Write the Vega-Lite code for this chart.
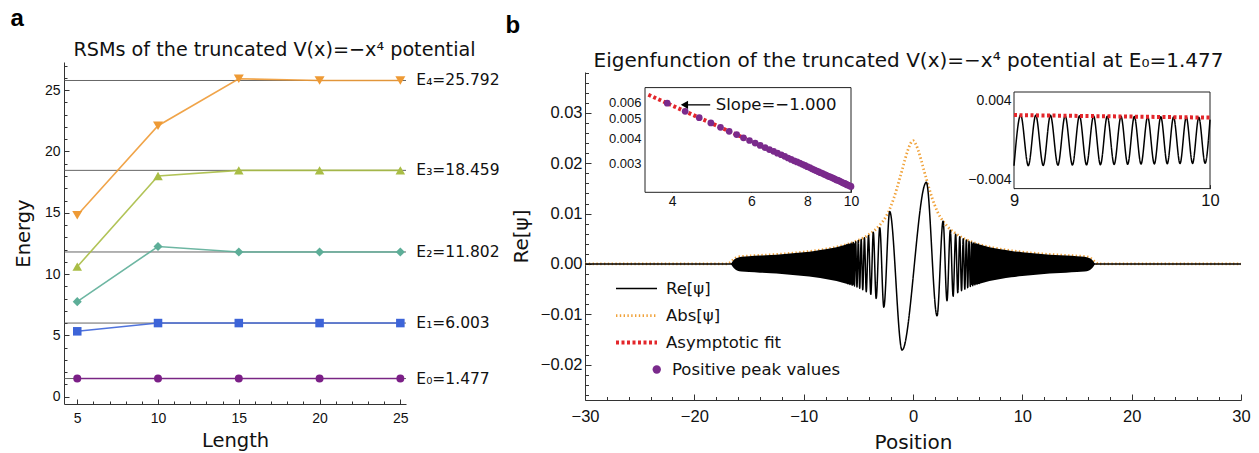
{
  "$schema": "https://vega.github.io/schema/vega-lite/v6.json",
  "background": "white",
  "padding": {"left": 10, "top": 6, "right": 5, "bottom": 3},
  "bounds": "flush",
  "spacing": 179,
  "config": {
    "view": {"stroke": null},
    "font": "Liberation Sans",
    "axis": {"grid": false, "labelFont": "Liberation Sans", "labelColor": "#111", "titleFont": "DejaVu Sans", "titleFontWeight": "normal", "titleColor": "#111", "domainColor": "#333", "tickColor": "#333", "labelFlush": false, "labelOverlap": false},
    "title": {"fontWeight": "normal", "color": "#111", "font": "DejaVu Sans"}
  },
  "resolve": {"scale": {"color": "independent", "shape": "independent", "size": "independent", "strokeDash": "independent", "strokeWidth": "independent"}, "legend": {"color": "independent", "shape": "independent", "size": "independent", "strokeDash": "independent", "strokeWidth": "independent"}},
  "hconcat": [
    {
      "width": 342,
      "height": 342,
      "resolve": {"axis": {"x": "independent", "y": "independent"}},
      "layer": [
        {
          "data": {"values": [
            {"level": "E0", "L": 25, "E": 1.477, "label": "E₀=1.477"},
            {"level": "E1", "L": 25, "E": 6.003, "label": "E₁=6.003"},
            {"level": "E2", "L": 25, "E": 11.802, "label": "E₂=11.802"},
            {"level": "E3", "L": 25, "E": 18.459, "label": "E₃=18.459"},
            {"level": "E4", "L": 25, "E": 25.792, "label": "E₄=25.792"}
          ]},
          "mark": {"type": "rule", "color": "#555", "strokeWidth": 0.9},
          "encoding": {
            "y": {"field": "E", "type": "quantitative", "scale": {"domain": [-0.6, 27.3], "nice": false, "zero": false},
              "axis": {"orient": "left", "values": [1,2,3,4,6,7,8,9,11,12,13,14,16,17,18,19,21,22,23,24,26,27], "labels": false, "domain": false, "tickSize": -3,
                "title": "a", "titleX": -54, "titleY": -36.7, "titleAngle": 0, "titleAlign": "left", "titleBaseline": "alphabetic", "titleFont": "Liberation Sans", "titleFontSize": 24, "titleFontWeight": "bold", "titleColor": "#000"}}
          }
        },
        {
          "data": {"name": "rsm", "values": [
            {"level": "E0", "L": 5, "E": 1.477}, {"level": "E0", "L": 10, "E": 1.477}, {"level": "E0", "L": 15, "E": 1.477}, {"level": "E0", "L": 20, "E": 1.477}, {"level": "E0", "L": 25, "E": 1.477},
            {"level": "E1", "L": 5, "E": 5.33}, {"level": "E1", "L": 10, "E": 6.003}, {"level": "E1", "L": 15, "E": 6.003}, {"level": "E1", "L": 20, "E": 6.003}, {"level": "E1", "L": 25, "E": 6.003},
            {"level": "E2", "L": 5, "E": 7.75}, {"level": "E2", "L": 10, "E": 12.25}, {"level": "E2", "L": 15, "E": 11.802}, {"level": "E2", "L": 20, "E": 11.802}, {"level": "E2", "L": 25, "E": 11.802},
            {"level": "E3", "L": 5, "E": 10.6}, {"level": "E3", "L": 10, "E": 18.0}, {"level": "E3", "L": 15, "E": 18.459}, {"level": "E3", "L": 20, "E": 18.459}, {"level": "E3", "L": 25, "E": 18.459},
            {"level": "E4", "L": 5, "E": 14.8}, {"level": "E4", "L": 10, "E": 22.1}, {"level": "E4", "L": 15, "E": 25.93}, {"level": "E4", "L": 20, "E": 25.792}, {"level": "E4", "L": 25, "E": 25.792}
          ]},
          "mark": {"type": "line", "strokeWidth": 1.6, "opacity": 0.9},
          "encoding": {
            "x": {"field": "L", "type": "quantitative", "scale": {"domain": [4.18, 25.35], "nice": false, "zero": false},
              "axis": {"orient": "bottom", "values": [5,10,15,20,25], "format": "d", "tickSize": -5, "labelPadding": 12, "labelFontSize": 14, "title": "Length", "titleFontSize": 19.5, "titlePadding": 6}},
            "y": {"field": "E", "type": "quantitative",
              "axis": {"orient": "left", "values": [0,5,10,15,20,25], "format": "d", "tickSize": -5, "labelPadding": 9, "labelFontSize": 14, "title": "Energy", "titleFontSize": 19.5, "titlePadding": 11}},
            "color": {"field": "level", "type": "nominal", "scale": {"domain": ["E0","E1","E2","E3","E4"], "range": ["#7B1F87","#3D64D8","#5DAE98","#A9BD45","#EE9A35"]}, "legend": null}
          }
        },
        {
          "data": {"name": "rsm"},
          "mark": {"type": "point", "filled": true, "opacity": 1},
          "encoding": {
            "x": {"field": "L", "type": "quantitative",
              "axis": {"orient": "bottom", "values": [6,7,8,9,11,12,13,14,16,17,18,19,21,22,23,24], "labels": false, "domain": false, "tickSize": -3,
                "title": "RSMs of the truncated V(x)=−x⁴ potential", "titleX": 210, "titleY": -348.7, "titleAngle": 0, "titleAlign": "center", "titleBaseline": "alphabetic", "titleFont": "DejaVu Sans", "titleFontSize": 19.2, "titleFontWeight": "normal"}},
            "y": {"field": "E", "type": "quantitative", "axis": null},
            "color": {"field": "level", "type": "nominal", "legend": null},
            "shape": {"field": "level", "type": "nominal", "scale": {"domain": ["E0","E1","E2","E3","E4"], "range": ["circle","square","diamond","triangle-up","triangle-down"]}, "legend": null},
            "size": {"field": "level", "type": "ordinal", "scale": {"domain": ["E0","E1","E2","E3","E4"], "range": [64, 100, 90, 110, 110]}, "legend": null}
          }
        },
        {
          "data": {"values": [
            {"level": "E0", "L": 25, "E": 1.477, "label": "E₀=1.477"},
            {"level": "E1", "L": 25, "E": 6.003, "label": "E₁=6.003"},
            {"level": "E2", "L": 25, "E": 11.802, "label": "E₂=11.802"},
            {"level": "E3", "L": 25, "E": 18.459, "label": "E₃=18.459"},
            {"level": "E4", "L": 25, "E": 25.792, "label": "E₄=25.792"}
          ]},
          "mark": {"type": "text", "align": "left", "baseline": "middle", "dx": 16, "font": "DejaVu Sans", "fontSize": 15.5, "color": "#111"},
          "encoding": {
            "x": {"field": "L", "type": "quantitative", "axis": null},
            "y": {"field": "E", "type": "quantitative", "axis": null},
            "text": {"field": "label"}
          }
        }
      ]
    },
    {
      "width": 656,
      "height": 338,
      "resolve": {"scale": {"x": "independent", "y": "independent"}, "axis": {"x": "independent", "y": "independent"}},
      "layer": [
        {
          "resolve": {"axis": {"x": "independent", "y": "independent"}},
          "layer": [
            {
              "data": {"values": [
                {"x": -30, "y": 0}, {"x": -17.0, "y": 0}, {"x": -16.7, "y": 0.0003}, {"x": -16.4, "y": 0.0009}, {"x": -16.1, "y": 0.0013}, {"x": -15.7, "y": 0.00148},
                {"x": -15, "y": 0.00158}, {"x": -14, "y": 0.0017}, {"x": -13, "y": 0.00182}, {"x": -12, "y": 0.00196}, {"x": -11, "y": 0.00214}, {"x": -10, "y": 0.00236},
                {"x": -9, "y": 0.00262}, {"x": -8, "y": 0.00294}, {"x": -7, "y": 0.00335}, {"x": -6, "y": 0.0039}, {"x": -5, "y": 0.0047}, {"x": -4.5, "y": 0.0052},
                {"x": -4, "y": 0.0059}, {"x": -3.5, "y": 0.0067}, {"x": -3, "y": 0.0078}, {"x": -2.5, "y": 0.0093}, {"x": -2.25, "y": 0.0103}, {"x": -2, "y": 0.0116},
                {"x": -1.75, "y": 0.0131}, {"x": -1.5, "y": 0.0148}, {"x": -1.25, "y": 0.0167}, {"x": -1, "y": 0.0186}, {"x": -0.75, "y": 0.0206}, {"x": -0.5, "y": 0.0224},
                {"x": -0.25, "y": 0.0238}, {"x": 0, "y": 0.0245}, {"x": 0.25, "y": 0.0238}, {"x": 0.5, "y": 0.0224}, {"x": 0.75, "y": 0.0206}, {"x": 1, "y": 0.0186},
                {"x": 1.25, "y": 0.0167}, {"x": 1.5, "y": 0.0148}, {"x": 1.75, "y": 0.0131}, {"x": 2, "y": 0.0116}, {"x": 2.25, "y": 0.0103}, {"x": 2.5, "y": 0.0093},
                {"x": 3, "y": 0.0078}, {"x": 3.5, "y": 0.0067}, {"x": 4, "y": 0.0059}, {"x": 4.5, "y": 0.0052}, {"x": 5, "y": 0.0047}, {"x": 6, "y": 0.0039},
                {"x": 7, "y": 0.00335}, {"x": 8, "y": 0.00294}, {"x": 9, "y": 0.00262}, {"x": 10, "y": 0.00236}, {"x": 11, "y": 0.00214}, {"x": 12, "y": 0.00196},
                {"x": 13, "y": 0.00182}, {"x": 14, "y": 0.0017}, {"x": 15, "y": 0.00158}, {"x": 15.7, "y": 0.00148}, {"x": 16.1, "y": 0.0013}, {"x": 16.4, "y": 0.0009},
                {"x": 16.7, "y": 0.0003}, {"x": 17.0, "y": 0}, {"x": 30, "y": 0}
              ]},
              "mark": {"type": "line", "interpolate": "monotone", "strokeCap": "butt"},
              "encoding": {
                "x": {"field": "x", "type": "quantitative", "scale": {"domain": [-30, 30], "nice": false, "zero": false},
                  "axis": {"orient": "bottom", "values": [-30,-20,-10,0,10,20,30], "format": "d", "tickSize": -6, "labelPadding": 14, "labelFontSize": 16.5, "title": "Position", "titleFontSize": 20, "titlePadding": 8}},
                "y": {"field": "y", "type": "quantitative", "scale": {"domain": [-0.027, 0.0381], "range": [338, 10], "nice": false, "zero": false},
                  "axis": {"orient": "left", "values": [-0.02,-0.01,0,0.01,0.02,0.03], "format": ".2f", "tickSize": -6, "labelPadding": 9, "labelFontSize": 16.5, "title": "Re[ψ]", "titleFontSize": 20, "titlePadding": 9}},
                "color": {"datum": "Abs[ψ]", "type": "nominal",
                  "scale": {"domain": ["Re[ψ]", "Abs[ψ]", "Asymptotic fit"], "range": ["#000000", "#F0A23A", "#E3262B"]},
                  "legend": {"orient": "none", "legendX": 29, "legendY": 214, "title": null, "padding": 0, "offset": 0,
                    "labelFont": "DejaVu Sans", "labelFontSize": 16.5, "labelColor": "#111", "labelOffset": 7, "labelLimit": 300,
                    "symbolType": "stroke", "symbolSize": 1681, "clipHeight": 25, "rowPadding": 2}},
                "strokeDash": {"datum": "Abs[ψ]", "type": "nominal",
                  "scale": {"domain": ["Re[ψ]", "Abs[ψ]", "Asymptotic fit"], "range": [[1, 0], [1.4, 2.4], [3, 2.5]]}},
                "strokeWidth": {"datum": "Abs[ψ]", "type": "nominal",
                  "scale": {"domain": ["Re[ψ]", "Abs[ψ]", "Asymptotic fit"], "range": [1.5, 4, 2.7]}}
              }
            },
            {
              "data": {"values": [
                {"side": "L", "x": -16.65, "top": 0, "bot": 0}, {"side": "L", "x": -16.4, "top": 0.0008, "bot": -0.0008}, {"side": "L", "x": -16.1, "top": 0.0012, "bot": -0.0013},
                {"side": "L", "x": -15.7, "top": 0.00145, "bot": -0.0015}, {"side": "L", "x": -15, "top": 0.00155, "bot": -0.0016}, {"side": "L", "x": -14, "top": 0.00166, "bot": -0.00172},
                {"side": "L", "x": -13, "top": 0.00178, "bot": -0.00185}, {"side": "L", "x": -12, "top": 0.00193, "bot": -0.002}, {"side": "L", "x": -11, "top": 0.00211, "bot": -0.00218},
                {"side": "L", "x": -10, "top": 0.00232, "bot": -0.0024}, {"side": "L", "x": -9, "top": 0.00258, "bot": -0.00266}, {"side": "L", "x": -8, "top": 0.0029, "bot": -0.003},
                {"side": "L", "x": -7, "top": 0.0033, "bot": -0.0034}, {"side": "L", "x": -6, "top": 0.0039, "bot": -0.004}, {"side": "L", "x": -5.3, "top": 0.0041, "bot": -0.0042},
                {"side": "R", "x": 5.3, "top": 0.0041, "bot": -0.0042}, {"side": "R", "x": 6, "top": 0.0039, "bot": -0.004}, {"side": "R", "x": 7, "top": 0.0033, "bot": -0.0034},
                {"side": "R", "x": 8, "top": 0.0029, "bot": -0.003}, {"side": "R", "x": 9, "top": 0.00258, "bot": -0.00266}, {"side": "R", "x": 10, "top": 0.00232, "bot": -0.0024},
                {"side": "R", "x": 11, "top": 0.00211, "bot": -0.00218}, {"side": "R", "x": 12, "top": 0.00193, "bot": -0.002}, {"side": "R", "x": 13, "top": 0.00178, "bot": -0.00185},
                {"side": "R", "x": 14, "top": 0.00166, "bot": -0.00172}, {"side": "R", "x": 15, "top": 0.00155, "bot": -0.0016}, {"side": "R", "x": 15.7, "top": 0.00145, "bot": -0.0015},
                {"side": "R", "x": 16.1, "top": 0.0012, "bot": -0.0013}, {"side": "R", "x": 16.4, "top": 0.0008, "bot": -0.0008}, {"side": "R", "x": 16.65, "top": 0, "bot": 0}
              ]},
              "mark": {"type": "area", "color": "#000000", "interpolate": "monotone"},
              "encoding": {
                "x": {"field": "x", "type": "quantitative",
                  "axis": {"orient": "bottom", "values": [-28,-26,-24,-22,-18,-16,-14,-12,-8,-6,-4,-2,2,4,6,8,12,14,16,18,22,24,26,28], "labels": false, "domain": false, "tickSize": -3.5,
                    "title": "Eigenfunction of the truncated V(x)=−x⁴ potential at E₀=1.477", "titleX": 323, "titleY": -333.7, "titleAngle": 0, "titleAlign": "center", "titleBaseline": "alphabetic", "titleFont": "DejaVu Sans", "titleFontSize": 20, "titleFontWeight": "normal"}},
                "y": {"field": "top", "type": "quantitative",
                  "axis": {"orient": "left", "values": [-0.026,-0.024,-0.022,-0.018,-0.016,-0.014,-0.012,-0.008,-0.006,-0.004,-0.002,0.002,0.004,0.006,0.008,0.012,0.014,0.016,0.018,0.022,0.024,0.026,0.028,0.032,0.034,0.036,0.038], "labels": false, "domain": false, "tickSize": -3.5,
                    "title": "b", "titleX": -80, "titleY": -30, "titleAngle": 0, "titleAlign": "left", "titleBaseline": "alphabetic", "titleFont": "Liberation Sans", "titleFontSize": 24, "titleFontWeight": "bold", "titleColor": "#000"}},
                "y2": {"field": "bot"},
                "detail": {"field": "side"}
              }
            },
            {
              "data": {"values": [
                {"x": -30, "y": 0}, {"x": -16.6, "y": 0}, {"x": -6.2, "y": 0},
                {"x": -6.03, "y": 0.00385}, {"x": -5.945, "y": -0.00395}, {"x": -5.855, "y": 0.00396}, {"x": -5.764, "y": -0.00408}, {"x": -5.665, "y": 0.0041}, {"x": -5.566, "y": -0.00422},
                {"x": -5.462, "y": 0.00425}, {"x": -5.357, "y": -0.00439}, {"x": -5.243, "y": 0.00442}, {"x": -5.124, "y": -0.00459}, {"x": -5.004, "y": 0.00464}, {"x": -4.877, "y": -0.00482},
                {"x": -4.739, "y": 0.0049}, {"x": -4.595, "y": -0.00511}, {"x": -4.441, "y": 0.00522}, {"x": -4.275, "y": -0.0055}, {"x": -4.07, "y": 0.00566}, {"x": -3.86, "y": -0.00603},
                {"x": -3.63, "y": 0.0063}, {"x": -3.37, "y": -0.00684}, {"x": -3.04, "y": 0.0072}, {"x": -2.67, "y": -0.0086}, {"x": -2.13, "y": 0.0104}, {"x": -1.0, "y": -0.0171},
                {"x": 1.22, "y": 0.0162}, {"x": 2.2, "y": -0.0103}, {"x": 2.75, "y": 0.0085}, {"x": 3.11, "y": -0.0073}, {"x": 3.41, "y": 0.0067}, {"x": 3.67, "y": -0.0064},
                {"x": 3.9, "y": 0.0059}, {"x": 4.096, "y": -0.0057}, {"x": 4.275, "y": 0.0054}, {"x": 4.441, "y": -0.0053}, {"x": 4.595, "y": 0.005}, {"x": 4.739, "y": -0.005},
                {"x": 4.877, "y": 0.00476}, {"x": 5.004, "y": -0.0047}, {"x": 5.124, "y": 0.00453}, {"x": 5.243, "y": -0.00448}, {"x": 5.357, "y": 0.00433}, {"x": 5.462, "y": -0.0043},
                {"x": 5.566, "y": 0.00417}, {"x": 5.665, "y": -0.00415}, {"x": 5.764, "y": 0.00402}, {"x": 5.855, "y": -0.00401}, {"x": 5.945, "y": 0.0039}, {"x": 6.033, "y": -0.0039},
                {"x": 6.2, "y": 0}, {"x": 16.6, "y": 0}, {"x": 30, "y": 0}
              ]},
              "mark": {"type": "line", "interpolate": "monotone"},
              "encoding": {
                "x": {"field": "x", "type": "quantitative", "axis": null},
                "y": {"field": "y", "type": "quantitative", "axis": null},
                "color": {"datum": "Re[ψ]", "type": "nominal"},
                "strokeDash": {"datum": "Re[ψ]", "type": "nominal"},
                "strokeWidth": {"datum": "Re[ψ]", "type": "nominal"}
              }
            }
          ]
        },
        {
          "resolve": {"axis": {"x": "independent", "y": "independent"}},
          "layer": [
            {
              "data": {"values": [{"x1": 3.48, "x2": 10, "y1": 0.00217, "y2": 0.0071}]},
              "mark": {"type": "rect", "fill": "white", "stroke": "#222", "strokeWidth": 1},
              "encoding": {
                "x": {"field": "x1", "type": "quantitative", "scale": {"type": "log", "domain": [3.48, 10], "range": [60, 266], "nice": false, "zero": false},
                  "axis": {"orient": "bottom", "offset": -207.7, "values": [4,6,8,10], "format": "d", "tickSize": -4, "labelPadding": 6, "labelFontSize": 14, "domain": false, "title": null}},
                "x2": {"field": "x2"},
                "y": {"field": "y1", "type": "quantitative", "scale": {"type": "log", "domain": [0.00217, 0.0071], "range": [130.3, 25.6], "nice": false, "zero": false},
                  "axis": {"orient": "left", "offset": -60, "values": [0.003, 0.004, 0.005, 0.006], "format": ".3f", "tickSize": -4, "labelPadding": 8, "labelFontSize": 13, "domain": false, "title": null}},
                "y2": {"field": "y2"}
              }
            },
            {
              "data": {"values": [{"x": 3.54, "y": 0.00655}, {"x": 10, "y": 0.00232}]},
              "mark": {"type": "line"},
              "encoding": {
                "x": {"field": "x", "type": "quantitative", "axis": null},
                "y": {"field": "y", "type": "quantitative", "axis": null},
                "color": {"datum": "Asymptotic fit", "type": "nominal"},
                "strokeDash": {"datum": "Asymptotic fit", "type": "nominal"},
                "strokeWidth": {"datum": "Asymptotic fit", "type": "nominal"}
              }
            },
            {
              "data": {"values": [
                {"x": 3.9, "y": 0.00595}, {"x": 4.275, "y": 0.00543}, {"x": 4.595, "y": 0.00505}, {"x": 4.877, "y": 0.00476}, {"x": 5.124, "y": 0.00453}, {"x": 5.357, "y": 0.00433},
                {"x": 5.566, "y": 0.00417}, {"x": 5.764, "y": 0.00402}, {"x": 5.945, "y": 0.0039}, {"x": 6.12, "y": 0.00379}, {"x": 6.28, "y": 0.00369}, {"x": 6.437, "y": 0.0036},
                {"x": 6.583, "y": 0.00352}, {"x": 6.726, "y": 0.00345}, {"x": 6.86, "y": 0.00338}, {"x": 6.994, "y": 0.00332}, {"x": 7.12, "y": 0.00326}, {"x": 7.243, "y": 0.0032},
                {"x": 7.358, "y": 0.00315}, {"x": 7.473, "y": 0.0031}, {"x": 7.583, "y": 0.00306}, {"x": 7.69, "y": 0.00302}, {"x": 7.796, "y": 0.00298}, {"x": 7.898, "y": 0.00294},
                {"x": 7.996, "y": 0.0029}, {"x": 8.094, "y": 0.00287}, {"x": 8.188, "y": 0.00283}, {"x": 8.281, "y": 0.0028}, {"x": 8.372, "y": 0.00277}, {"x": 8.46, "y": 0.00274},
                {"x": 8.548, "y": 0.00271}, {"x": 8.632, "y": 0.00269}, {"x": 8.716, "y": 0.00266}, {"x": 8.797, "y": 0.00264}, {"x": 8.878, "y": 0.00261}, {"x": 8.957, "y": 0.00259},
                {"x": 9.034, "y": 0.00257}, {"x": 9.111, "y": 0.00255}, {"x": 9.186, "y": 0.00253}, {"x": 9.261, "y": 0.0025}, {"x": 9.334, "y": 0.00249}, {"x": 9.406, "y": 0.00247},
                {"x": 9.476, "y": 0.00245}, {"x": 9.546, "y": 0.00243}, {"x": 9.614, "y": 0.00241}, {"x": 9.682, "y": 0.0024}, {"x": 9.749, "y": 0.00238}, {"x": 9.814, "y": 0.00236},
                {"x": 9.879, "y": 0.00235}, {"x": 9.943, "y": 0.00233}, {"x": 10.0, "y": 0.00232}
              ]},
              "mark": {"type": "point", "filled": true, "opacity": 1, "size": 45, "color": "#7A2A8C"},
              "encoding": {
                "x": {"field": "x", "type": "quantitative", "axis": null},
                "y": {"field": "y", "type": "quantitative", "axis": null},
                "shape": {"datum": "Positive peak values", "type": "nominal",
                  "scale": {"domain": ["Positive peak values"], "range": ["circle"]},
                  "legend": {"orient": "none", "legendX": 63.5, "legendY": 295, "title": null, "padding": 0, "offset": 0,
                    "labelFont": "DejaVu Sans", "labelFontSize": 16.5, "labelColor": "#111", "labelOffset": 7, "labelLimit": 300,
                    "symbolSize": 70, "symbolFillColor": "#7A2A8C", "symbolStrokeWidth": 0, "clipHeight": 25, "rowPadding": 2}}
              }
            },
            {
              "data": {"values": [{"x1": 4.22, "x2": 4.86, "y": 0.00584}]},
              "mark": {"type": "rule", "color": "#000", "strokeWidth": 1.3},
              "encoding": {
                "x": {"field": "x1", "type": "quantitative", "axis": null},
                "x2": {"field": "x2"},
                "y": {"field": "y", "type": "quantitative", "axis": null}
              }
            },
            {
              "data": {"values": [{"x": 4.26, "y": 0.00584}]},
              "mark": {"type": "point", "shape": "triangle-left", "filled": true, "color": "#000", "size": 70, "opacity": 1},
              "encoding": {
                "x": {"field": "x", "type": "quantitative", "axis": null},
                "y": {"field": "y", "type": "quantitative", "axis": null}
              }
            },
            {
              "data": {"values": [{"x": 5.0, "y": 0.00584, "t": "Slope=−1.000"}]},
              "mark": {"type": "text", "align": "left", "baseline": "middle", "font": "DejaVu Sans", "fontSize": 16.5, "color": "#111"},
              "encoding": {
                "x": {"field": "x", "type": "quantitative", "axis": null},
                "y": {"field": "y", "type": "quantitative", "axis": null},
                "text": {"field": "t"}
              }
            }
          ]
        },
        {
          "resolve": {"axis": {"x": "independent", "y": "independent"}},
          "layer": [
            {
              "data": {"values": [{"x1": 9, "x2": 10, "y1": -0.0049, "y2": 0.0049}]},
              "mark": {"type": "rect", "fill": "white", "stroke": "#222", "strokeWidth": 1},
              "encoding": {
                "x": {"field": "x1", "type": "quantitative", "scale": {"domain": [9, 10], "range": [429, 625], "nice": false, "zero": false},
                  "axis": {"orient": "bottom", "offset": -211.4, "values": [9, 10], "format": "d", "tickSize": -4, "labelPadding": 8, "labelFontSize": 16.5, "domain": false, "title": null}},
                "x2": {"field": "x2"},
                "y": {"field": "y1", "type": "quantitative", "scale": {"domain": [-0.0049, 0.0049], "range": [126.6, 30], "nice": false, "zero": false},
                  "axis": {"orient": "left", "offset": -429, "values": [-0.004, 0.004], "format": ".3f", "tickSize": -4, "labelPadding": 7, "labelFontSize": 14, "domain": false, "title": null}},
                "y2": {"field": "y2"}
              }
            },
            {
              "data": {"values": [
                {"x": 9.0, "y": -0.00258}, {"x": 9.034, "y": 0.00257}, {"x": 9.073, "y": -0.00257}, {"x": 9.111, "y": 0.00255}, {"x": 9.149, "y": -0.00255}, {"x": 9.186, "y": 0.00253},
                {"x": 9.224, "y": -0.00253}, {"x": 9.261, "y": 0.0025}, {"x": 9.298, "y": -0.00251}, {"x": 9.334, "y": 0.00249}, {"x": 9.37, "y": -0.00249}, {"x": 9.406, "y": 0.00247},
                {"x": 9.441, "y": -0.00247}, {"x": 9.476, "y": 0.00245}, {"x": 9.511, "y": -0.00245}, {"x": 9.546, "y": 0.00243}, {"x": 9.58, "y": -0.00243}, {"x": 9.614, "y": 0.00241},
                {"x": 9.648, "y": -0.00241}, {"x": 9.682, "y": 0.0024}, {"x": 9.716, "y": -0.0024}, {"x": 9.749, "y": 0.00238}, {"x": 9.782, "y": -0.00238}, {"x": 9.814, "y": 0.00236},
                {"x": 9.847, "y": -0.00236}, {"x": 9.879, "y": 0.00235}, {"x": 9.911, "y": -0.00235}, {"x": 9.943, "y": 0.00233}, {"x": 9.975, "y": -0.00233}, {"x": 10.0, "y": 0.0021}
              ]},
              "mark": {"type": "line", "interpolate": "monotone"},
              "encoding": {
                "x": {"field": "x", "type": "quantitative", "axis": null},
                "y": {"field": "y", "type": "quantitative", "axis": null},
                "color": {"datum": "Re[ψ]", "type": "nominal"},
                "strokeDash": {"datum": "Re[ψ]", "type": "nominal"},
                "strokeWidth": {"datum": "Re[ψ]", "type": "nominal"}
              }
            },
            {
              "data": {"values": [{"x": 9, "y": 0.00256}, {"x": 10, "y": 0.0023}]},
              "mark": {"type": "line"},
              "encoding": {
                "x": {"field": "x", "type": "quantitative", "axis": null},
                "y": {"field": "y", "type": "quantitative", "axis": null},
                "color": {"datum": "Asymptotic fit", "type": "nominal"},
                "strokeDash": {"datum": "Asymptotic fit", "type": "nominal"},
                "strokeWidth": {"datum": "Asymptotic fit", "type": "nominal"}
              }
            }
          ]
        }
      ]
    }
  ]
}
